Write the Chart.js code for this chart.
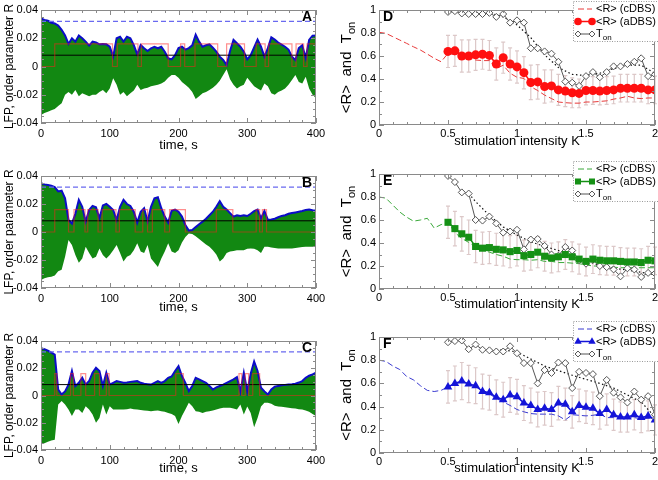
<!DOCTYPE html>
<html>
<head>
<meta charset="utf-8">
<title>LFP, order parameter and stimulation intensity</title>
<script src="https://cdn.jsdelivr.net/npm/chart.js@4.4.1/dist/chart.umd.min.js"></script>
<style>
  html, body { margin: 0; padding: 0; background: #fff; }
  body { width: 658px; height: 480px; position: relative; overflow: hidden; }
  canvas { position: absolute; }
</style>
</head>
<body>
<canvas id="panelA" width="330" height="160" style="left:0;top:0"></canvas>
<canvas id="panelB" width="330" height="160" style="left:0;top:160px"></canvas>
<canvas id="panelC" width="330" height="160" style="left:0;top:320px"></canvas>
<canvas id="panelD" width="334" height="160" style="left:330px;top:0"></canvas>
<canvas id="panelE" width="334" height="160" style="left:330px;top:160px"></canvas>
<canvas id="panelF" width="334" height="160" style="left:330px;top:320px"></canvas>
<script>
// --- time traces (A-C): envelope of the LFP, R on top of it ---
const timeS = [0,5,10,15,20,25,30,35,40,45,50,55,60,65,70,75,80,85,90,95,100,105,110,115,120,125,130,135,140,145,150,155,160,165,170,175,180,185,190,195,200,205,210,215,220,225,230,235,240,245,250,255,260,265,270,275,280,285,290,295,300,305,310,315,320,325,330,335,340,345,350,355,360,365,370,375,380,385,390,395,400];

const rUpperA = [0.034,0.033,0.0325,0.031,0.0305,0.029,0.026,0.022,0.016,0.020,
  0.0176,0.022,0.020,0.0176,0.0148,0.0176,0.017,0.0157,0.016,0.0157,
  0.014,0.007,0.020,0.021,0.0176,0.021,0.020,0.0152,0.0086,0.0152,
  0.0129,0.011,0.0129,0.014,0.0129,0.014,0.0105,0.0058,0.005,0.008,
  0.013,0.014,0.012,0.013,0.015,0.0225,0.0176,0.014,0.015,0.0157,
  0.0133,0.0105,0.007,0.0046,0.001,0.011,0.0188,0.0165,0.014,0.0105,
  0.005,0.008,0.0135,0.019,0.014,0.007,0.013,0.0206,0.019,0.017,
  0.0155,0.014,0.012,0.007,0.0046,0.013,0.015,0.006,0.0188,0.0218,
  0.022];
const lfpLowA = [-0.0343,-0.033,-0.032,-0.031,-0.030,-0.028,-0.026,-0.020,-0.018,-0.020,
  -0.0166,-0.021,-0.019,-0.020,-0.021,-0.020,-0.020,-0.018,-0.0166,-0.019,
  -0.0155,-0.0084,-0.013,-0.020,-0.018,-0.021,-0.019,-0.017,-0.013,-0.0166,
  -0.0155,-0.015,-0.014,-0.0135,-0.013,-0.012,-0.0107,-0.008,-0.006,-0.006,
  -0.008,-0.011,-0.013,-0.015,-0.018,-0.023,-0.021,-0.019,-0.018,-0.0166,
  -0.015,-0.013,-0.010,-0.006,-0.002,-0.009,-0.013,-0.0155,-0.014,-0.013,
  -0.008,-0.011,-0.014,-0.0155,-0.017,-0.012,-0.014,-0.019,-0.020,-0.018,
  -0.017,-0.0155,-0.013,-0.0095,-0.006,-0.011,-0.012,-0.0072,-0.0155,-0.020,
  -0.0225];

const rUpperB = [0.0348,0.034,0.0336,0.033,0.032,0.029,0.0295,0.024,0.0086,0.006,
  0.013,0.023,0.018,0.0074,0.0157,0.0186,0.0176,0.0098,0.019,0.020,
  0.018,0.0157,0.0086,0.018,0.023,0.020,0.0186,0.0145,0.0067,0.0145,
  0.017,0.0074,0.018,0.024,0.0248,0.017,0.011,0.0067,0.0152,0.016,
  0.0145,0.011,0.005,0.001,0.0014,0.0035,0.0055,0.0074,0.0095,0.012,
  0.0145,0.018,0.022,0.018,0.016,0.0135,0.011,0.012,0.0114,0.012,
  0.0114,0.013,0.015,0.016,0.0098,0.015,0.0086,0.009,0.0095,0.0105,
  0.0115,0.012,0.013,0.0135,0.014,0.0145,0.015,0.0157,0.016,0.0155,
  0.0152];
const lfpLowB = [-0.0343,-0.033,-0.0324,-0.032,-0.031,-0.028,-0.027,-0.0176,-0.0057,-0.0093,
  -0.0164,-0.022,-0.019,-0.0105,-0.015,-0.019,-0.0176,-0.0117,-0.0164,-0.019,
  -0.0164,-0.013,-0.0093,-0.015,-0.021,-0.0176,-0.0164,-0.013,-0.008,-0.014,
  -0.015,-0.0093,-0.019,-0.022,-0.025,-0.019,-0.014,-0.008,-0.014,-0.015,
  -0.013,-0.0075,-0.0035,-0.001,-0.0015,-0.003,-0.005,-0.007,-0.009,-0.0105,
  -0.013,-0.016,-0.021,-0.019,-0.015,-0.014,-0.0135,-0.013,-0.013,-0.013,
  -0.012,-0.0117,-0.012,-0.013,-0.015,-0.0105,-0.0105,-0.011,-0.0115,-0.0117,
  -0.0117,-0.0117,-0.0117,-0.0117,-0.0115,-0.011,-0.0108,-0.0105,-0.0105,-0.0105,
  -0.0105];

const rUpperC = [0.0347,0.034,0.033,0.0315,0.030,0.0044,0.0007,0.003,0.008,0.018,
  0.0069,0.0093,0.013,0.008,0.0106,0.0167,0.0204,0.018,0.007,0.0167,
  0.008,0.0093,0.0106,0.010,0.0093,0.0095,0.010,0.0103,0.0106,0.0093,
  0.0086,0.0083,0.008,0.0093,0.0106,0.0093,0.0106,0.013,0.014,0.018,
  0.0216,0.0143,0.0093,0.0032,0.007,0.013,0.0118,0.0106,0.0093,0.007,
  0.0044,0.006,0.007,0.008,0.0093,0.0106,0.0118,0.0135,0.003,0.0167,
  0.003,0.016,0.025,0.018,0.0057,0.003,0.0007,0.0044,0.0065,0.007,
  0.0075,0.0078,0.008,0.0082,0.0086,0.0095,0.0106,0.013,0.0145,0.0155,
  0.0167];
const lfpLowC = [-0.0356,-0.035,-0.034,-0.033,-0.0325,-0.0066,-0.004,-0.0066,-0.0103,-0.015,
  -0.0103,-0.0103,-0.0128,-0.0079,-0.0103,-0.014,-0.020,-0.0165,-0.0066,-0.014,
  -0.0079,-0.0103,-0.0103,-0.0103,-0.0103,-0.010,-0.0096,-0.010,-0.0103,-0.0107,
  -0.011,-0.0112,-0.0115,-0.0112,-0.011,-0.0115,-0.012,-0.0128,-0.0135,-0.015,
  -0.021,-0.015,-0.0103,-0.0054,-0.0079,-0.0115,-0.012,-0.0128,-0.012,-0.0115,
  -0.011,-0.0103,-0.0096,-0.009,-0.009,-0.009,-0.0095,-0.0103,-0.0066,-0.014,
  -0.008,-0.0128,-0.0233,-0.0165,-0.008,-0.0054,-0.0054,-0.006,-0.0075,-0.008,
  -0.0083,-0.0086,-0.009,-0.0093,-0.0096,-0.010,-0.0103,-0.011,-0.012,-0.0135,
  -0.015];

// stimulation on/off: times where it toggles (starts off)
const switchesA = [20,104,111,141,146,185,203,209,224,257,270,296,313,326,331,365,371,382,387];
const switchesB = [20,40,48,64,68,83,89,109,114,137,148,155,162,180,187,210,255,279,313,318,322,328];
const switchesC = [20,23,43,47,58,65,78,85,95,99,196,207,288,292,297,302,308,318];
const stimOn = 0.016, stimOff = 0;
const rInitial = 0.032;     // dashed blue
const rThreshold = 0.008;   // black line
const tEnd = 400;

// --- stimulation intensity panels (D-F) ---
const kAll = [0,0.05,0.1,0.15,0.2,0.25,0.3,0.35,0.4,0.45,0.5,0.55,0.6,0.65,0.7,0.75,0.8,0.85,0.9,0.95,1,1.05,1.1,1.15,1.2,1.25,1.3,1.35,1.4,1.45,1.5,1.55,1.6,1.65,1.7,1.75,1.8,1.85,1.9,1.95,2];
const kStim = [0.5,0.55,0.6,0.65,0.7,0.75,0.8,0.85,0.9,0.95,1,1.05,1.1,1.15,1.2,1.25,1.3,1.35,1.4,1.45,1.5,1.55,1.6,1.65,1.7,1.75,1.8,1.85,1.9,1.95,2];

const cdbsD = [0.806,0.797,0.768,0.739,0.71,0.68,0.652,0.617,0.58,0.55,0.623,0.61,0.60,0.59,0.565,0.56,0.56,0.49,0.52,0.45,0.415,0.405,0.333,0.30,0.26,0.23,0.20,0.194,0.19,0.19,0.20,0.20,0.205,0.21,0.225,0.235,0.25,0.235,0.23,0.235,0.235];
const adbsD = [0.64,0.645,0.60,0.60,0.61,0.615,0.605,0.53,0.585,0.53,0.505,0.455,0.37,0.375,0.335,0.34,0.305,0.295,0.28,0.275,0.30,0.30,0.295,0.30,0.305,0.32,0.32,0.32,0.32,0.305,0.305];
const errD = [0.14,0.135,0.14,0.14,0.135,0.13,0.13,0.14,0.135,0.14,0.14,0.14,0.15,0.15,0.145,0.14,0.135,0.135,0.13,0.125,0.125,0.12,0.12,0.12,0.12,0.12,0.12,0.12,0.12,0.12,0.12];
const tonD = [0.983,0.99,0.97,0.965,0.965,0.965,0.975,0.94,0.965,0.89,0.91,0.89,0.667,0.667,0.64,0.62,0.55,0.377,0.368,0.34,0.425,0.46,0.415,0.46,0.51,0.51,0.53,0.55,0.58,0.425,0.44];
const kFitD = [0.75,0.8,0.9,1,1.1,1.2,1.3,1.4,1.5,1.6,1.7,1.8,1.9,2];
const fitD = [0.98,0.975,0.94,0.87,0.76,0.61,0.5,0.44,0.43,0.45,0.49,0.52,0.52,0.45];

const cdbsE = [0.80,0.79,0.73,0.67,0.625,0.59,0.60,0.615,0.53,0.56,0.58,0.49,0.44,0.405,0.365,0.34,0.32,0.30,0.285,0.26,0.255,0.255,0.25,0.255,0.24,0.24,0.23,0.23,0.225,0.22,0.21,0.20,0.20,0.195,0.19,0.185,0.185,0.185,0.185,0.185,0.185];
const adbsE = [0.58,0.525,0.48,0.45,0.37,0.355,0.36,0.345,0.34,0.325,0.335,0.29,0.30,0.32,0.285,0.27,0.28,0.30,0.28,0.26,0.24,0.26,0.25,0.245,0.245,0.24,0.235,0.235,0.23,0.25,0.245];
const errE = [0.14,0.15,0.15,0.15,0.14,0.14,0.14,0.14,0.14,0.14,0.135,0.135,0.135,0.135,0.13,0.13,0.13,0.13,0.13,0.13,0.125,0.125,0.125,0.125,0.125,0.12,0.12,0.12,0.12,0.12,0.12];
const tonE = [0.983,0.93,0.84,0.83,0.60,0.595,0.63,0.57,0.49,0.50,0.515,0.345,0.43,0.435,0.375,0.30,0.29,0.365,0.335,0.25,0.22,0.255,0.20,0.19,0.17,0.11,0.18,0.17,0.105,0.14,0.135];
const kFitE = [0.65,0.7,0.8,0.9,1,1.1,1.2,1.3,1.4,1.5,1.6,1.7,1.8,1.9,2];
const fitE = [0.83,0.76,0.64,0.54,0.47,0.41,0.37,0.335,0.29,0.245,0.205,0.18,0.165,0.145,0.125];

const cdbsF = [0.80,0.79,0.75,0.72,0.66,0.63,0.58,0.54,0.53,0.54,0.57,0.595,0.615,0.595,0.57,0.545,0.51,0.47,0.44,0.41,0.375,0.355,0.34,0.335,0.335,0.335,0.32,0.285,0.33,0.325,0.32,0.325,0.335,0.305,0.305,0.31,0.30,0.305,0.295,0.30,0.29];
const adbsF = [0.57,0.60,0.62,0.595,0.58,0.53,0.52,0.48,0.46,0.50,0.485,0.43,0.41,0.375,0.385,0.375,0.43,0.42,0.355,0.41,0.395,0.385,0.34,0.375,0.33,0.31,0.31,0.33,0.305,0.32,0.285];
const errF = [0.14,0.15,0.16,0.16,0.155,0.15,0.15,0.15,0.15,0.15,0.15,0.15,0.15,0.15,0.145,0.145,0.145,0.14,0.14,0.14,0.14,0.14,0.135,0.135,0.135,0.13,0.13,0.13,0.13,0.13,0.13];
const tonF = [0.955,0.965,0.97,0.895,0.935,0.89,0.885,0.875,0.875,0.92,0.86,0.775,0.775,0.60,0.715,0.69,0.78,0.775,0.56,0.70,0.69,0.68,0.49,0.63,0.52,0.48,0.435,0.53,0.46,0.49,0.33];
const kFitF = [0.85,0.9,1,1.1,1.2,1.3,1.4,1.5,1.6,1.7,1.8,1.9,2];
const fitF = [0.89,0.89,0.87,0.81,0.75,0.71,0.67,0.635,0.6,0.56,0.5,0.44,0.31];

const FONT = "'Liberation Sans', Arial, Helvetica, sans-serif";
Chart.defaults.font.family = FONT;
Chart.defaults.color = '#000';

const pairs = (xs, ys) => xs.map((x, i) => ({ x, y: ys[i] }));
const shortNum = v => String(Math.round(v * 100) / 100);

function stepSeries(switches){
  const pts = [{ x: 0, y: stimOff }];
  let on = false;
  switches.forEach(t => { on = !on; pts.push({ x: t, y: on ? stimOn : stimOff }); });
  pts.push({ x: tEnd, y: on ? stimOn : stimOff });
  return pts;
}

// frame + inward ticks on all four sides (xmgrace look)
const frameTicks = {
  id: 'frameTicks',
  afterDatasetsDraw(chart, args, o){
    const { ctx, chartArea: a, scales: { x, y } } = chart;
    ctx.save();
    ctx.strokeStyle = o.color;
    ctx.lineWidth = 1;
    ctx.beginPath();
    const walk = (scale, minor, major, fn) => {
      const n = Math.round((scale.max - scale.min) / minor);
      for (let i = 0; i <= n; i++){
        const r = i * minor / major;
        const isMajor = Math.abs(r - Math.round(r)) < 1e-6;
        fn(Math.round(scale.getPixelForValue(scale.min + i * minor)) + 0.5, isMajor ? 5 : 3);
      }
    };
    walk(x, o.xMinor, o.xMajor, (px, len) => {
      ctx.moveTo(px, a.bottom); ctx.lineTo(px, a.bottom - len);
      ctx.moveTo(px, a.top); ctx.lineTo(px, a.top + len);
    });
    walk(y, o.yMinor, o.yMajor, (py, len) => {
      ctx.moveTo(a.left, py); ctx.lineTo(a.left + len, py);
      ctx.moveTo(a.right, py); ctx.lineTo(a.right - len, py);
    });
    ctx.stroke();
    ctx.strokeRect(Math.round(a.left) + 0.5, Math.round(a.top) + 0.5, Math.round(a.width) - 1, Math.round(a.height) - 1);
    ctx.restore();
  }
};

const panelLetter = {
  id: 'panelLetter',
  afterDraw(chart, args, o){
    const { ctx, chartArea: a } = chart;
    ctx.save();
    ctx.font = 'bold 14px ' + FONT;
    ctx.fillStyle = '#000';
    ctx.textBaseline = 'alphabetic';
    if (o.side === 'right'){ ctx.textAlign = 'right'; ctx.fillText(o.text, a.right - 4, a.top + o.dy); }
    else { ctx.textAlign = 'left'; ctx.fillText(o.text, a.left + 4, a.top + o.dy); }
    ctx.restore();
  }
};

// x axis title placed under the tick labels
const xTitle = {
  id: 'xTitle',
  afterDraw(chart, args, o){
    const { ctx, chartArea: a } = chart;
    ctx.save();
    ctx.font = o.size + 'px ' + FONT;
    ctx.fillStyle = '#000';
    ctx.textAlign = 'center';
    ctx.textBaseline = 'middle';
    ctx.fillText(o.text, (a.left + a.right) / 2, a.bottom + o.dy);
    ctx.restore();
  }
};

// error bars from dataset.errorBars, drawn under the curves
const errorBars = {
  id: 'errorBars',
  beforeDatasetsDraw(chart, args, o){
    const { ctx, scales: { x, y } } = chart;
    ctx.save();
    ctx.strokeStyle = o.color;
    ctx.lineWidth = 1.2;
    chart.data.datasets.forEach(ds => {
      if (!ds.errorBars) return;
      ds.data.forEach((p, i) => {
        const e = ds.errorBars[i];
        const px = x.getPixelForValue(p.x);
        const top = y.getPixelForValue(p.y + e), bot = y.getPixelForValue(p.y - e);
        ctx.beginPath();
        ctx.moveTo(px, top); ctx.lineTo(px, bot);
        ctx.moveTo(px - 2, top); ctx.lineTo(px + 2, top);
        ctx.moveTo(px - 2, bot); ctx.lineTo(px + 2, bot);
        ctx.stroke();
      });
    });
    ctx.restore();
  }
};

function drawSubText(ctx, x, y, main, sub, size){
  ctx.font = size + 'px ' + FONT;
  ctx.fillText(main, x, y);
  const w = ctx.measureText(main).width;
  ctx.font = Math.round(size * 0.7) + 'px ' + FONT;
  ctx.fillText(sub, x + w, y + size * 0.3);
}

const yTitleSub = {
  id: 'yTitleSub',
  afterDraw(chart, args, o){
    const { ctx, chartArea: a } = chart;
    ctx.save();
    ctx.translate(o.x, (a.top + a.bottom) / 2);
    ctx.rotate(-Math.PI / 2);
    ctx.fillStyle = '#000';
    ctx.textBaseline = 'middle';
    ctx.textAlign = 'left';
    ctx.font = o.size + 'px ' + FONT;
    const w1 = ctx.measureText(o.text).width;
    ctx.font = Math.round(o.size * 0.7) + 'px ' + FONT;
    const w2 = ctx.measureText(o.sub).width;
    drawSubText(ctx, -(w1 + w2) / 2, 0, o.text, o.sub, o.size);
    ctx.restore();
  }
};

const dbsLegend = {
  id: 'dbsLegend',
  afterDraw(chart, args, o){
    const { ctx, chartArea: a } = chart;
    const bx = a.right - 82, by = 1, bw = 86, bh = 41;
    const H = Chart.helpers;
    ctx.save();
    ctx.fillStyle = '#fff';
    ctx.fillRect(bx, by, bw, bh);
    ctx.strokeStyle = '#999';
    ctx.lineWidth = 1;
    ctx.setLineDash([1, 1.5]);
    ctx.strokeRect(bx + 0.5, by + 0.5, bw, bh - 1);
    const rows = [chart.data.datasets[3], chart.data.datasets[0], chart.data.datasets[1]];
    rows.forEach((ds, i) => {
      const cy = by + 8 + i * 12.5;
      const x0 = bx + 5, x1 = bx + 19;
      ctx.setLineDash(ds.borderDash || []);
      ctx.strokeStyle = ds.borderColor;
      ctx.lineWidth = ds.borderWidth;
      ctx.beginPath(); ctx.moveTo(x0, cy); ctx.lineTo(x1, cy); ctx.stroke();
      ctx.setLineDash([]);
      if (ds.pointRadius > 0){
        ctx.fillStyle = ds.pointBackgroundColor || ds.backgroundColor;
        ctx.strokeStyle = ds.pointBorderColor || ds.borderColor;
        ctx.lineWidth = ds.pointBorderWidth || 0;
        const po = { pointStyle: ds.pointStyle, radius: ds.pointRadius * 0.85, rotation: 0, borderWidth: ds.pointBorderWidth || 0 };
        H.drawPoint(ctx, po, x0, cy);
        H.drawPoint(ctx, po, x1, cy);
      }
      ctx.fillStyle = '#000';
      ctx.textBaseline = 'middle';
      ctx.textAlign = 'left';
      if (ds.legendSub) drawSubText(ctx, bx + 23, cy, ds.legendText, ds.legendSub, 11);
      else { ctx.font = '11px ' + FONT; ctx.fillText(ds.legendText, bx + 23, cy); }
    });
    ctx.restore();
  }
};

const noGrid = { display: false, drawTicks: false };

function lfpPanel(id, letter, upper, lower, switches, lay){
  new Chart(document.getElementById(id), {
    type: 'scatter',
    data: {
      datasets: [
        { data: pairs(timeS, lower), showLine: true, borderWidth: 0, borderColor: 'rgba(0,0,0,0)', pointRadius: 0, order: 4 },
        { data: pairs(timeS, upper), showLine: true, borderColor: '#0c0cc8', borderWidth: 2, pointRadius: 0,
          fill: '-1', backgroundColor: '#128812', order: 3 },
        { data: [{ x: 0, y: rInitial }, { x: tEnd, y: rInitial }], showLine: true, borderColor: '#6a6af0',
          borderWidth: 1.2, borderDash: [5, 3], pointRadius: 0, order: 2 },
        { data: [{ x: 0, y: rThreshold }, { x: tEnd, y: rThreshold }], showLine: true, borderColor: '#000',
          borderWidth: 1, pointRadius: 0, order: 1 },
        { data: stepSeries(switches), showLine: true, stepped: true, borderColor: 'rgba(255,30,30,0.5)',
          borderWidth: 1.2, pointRadius: 0, order: 0 }
      ]
    },
    options: {
      responsive: false,
      animation: false,
      events: [],
      layout: { padding: { top: lay.top, right: 14, bottom: 0, left: 0 } },
      plugins: {
        legend: { display: false },
        tooltip: { enabled: false },
        frameTicks: { color: '#8a8a8a', xMinor: 20, xMajor: 100, yMinor: 0.005, yMajor: 0.02 },
        panelLetter: { text: letter, side: 'right', dy: 10.5 },
        xTitle: { text: 'time, s', size: 13, dy: lay.titleDy }
      },
      scales: {
        x: {
          type: 'linear', min: 0, max: 400,
          grid: noGrid, border: { display: false },
          ticks: { stepSize: 100, font: { size: 11 }, padding: 4 },
          afterFit: s => { s.height = lay.xh; }
        },
        y: {
          min: -0.04, max: 0.04,
          grid: noGrid, border: { display: false },
          ticks: { stepSize: 0.02, font: { size: 11 }, padding: 3,
            callback: v => Math.abs(v) < 1e-9 ? '0' : v.toFixed(2) },
          title: { display: true, text: 'LFP, order parameter R', font: { size: 12 }, padding: { top: 2, bottom: 0 } },
          afterFit: s => { s.width = 41; }
        }
      }
    },
    plugins: [frameTicks, panelLetter, xTitle]
  });
}

function dbsPanel(id, letter, c, lay){
  new Chart(document.getElementById(id), {
    type: 'scatter',
    data: {
      datasets: [
        { data: pairs(kStim, c.adbs), errorBars: c.err, showLine: true, borderColor: c.color, backgroundColor: c.color,
          borderWidth: 1.5, pointStyle: c.pointStyle, pointRadius: c.pointRadius, pointBorderWidth: 0,
          legendText: '<R> (aDBS)', order: 0 },
        { data: pairs(kStim, c.ton), showLine: true, borderColor: '#555', borderWidth: 1, pointStyle: 'rectRot',
          pointRadius: 3.5, pointBackgroundColor: '#fff', pointBorderColor: '#555', pointBorderWidth: 1,
          legendText: 'T', legendSub: 'on', order: 1 },
        { data: pairs(c.fitK, c.fit), showLine: true, borderColor: '#111', borderWidth: 1.2, borderDash: [1.5, 2.5],
          pointRadius: 0, order: 2 },
        { data: pairs(kAll, c.cdbs), showLine: true, borderColor: c.dashColor, borderWidth: 1, borderDash: [6, 3],
          pointRadius: 0, legendText: '<R> (cDBS)', order: 3 }
      ]
    },
    options: {
      responsive: false,
      animation: false,
      events: [],
      layout: { padding: { top: lay.top, right: 9, bottom: 0, left: 0 } },
      plugins: {
        legend: { display: false },
        tooltip: { enabled: false },
        frameTicks: { color: '#8a8a8a', xMinor: 0.1, xMajor: 0.5, yMinor: 0.1, yMajor: 0.2 },
        errorBars: { color: 'rgba(214,190,190,0.85)' },
        panelLetter: { text: letter, side: 'left', dy: 11 },
        yTitleSub: { x: 17, text: '<R>  and  T', sub: 'on', size: 15 },
        xTitle: { text: 'stimulation intensity K', size: 13, dy: lay.titleDy }
      },
      scales: {
        x: {
          type: 'linear', min: 0, max: 2,
          grid: noGrid, border: { display: false },
          ticks: { stepSize: 0.5, font: { size: 11 }, padding: 2, callback: shortNum },
          afterFit: s => { s.height = lay.xh; }
        },
        y: {
          min: 0, max: 1,
          grid: noGrid, border: { display: false },
          ticks: { stepSize: 0.2, font: { size: 11 }, padding: 3, callback: shortNum },
          afterFit: s => { s.width = 49; }
        }
      }
    },
    plugins: [errorBars, frameTicks, panelLetter, yTitleSub, xTitle, dbsLegend]
  });
}

lfpPanel('panelA', 'A', rUpperA, lfpLowA, switchesA, { top: 10, xh: 37, titleDy: 22 });
lfpPanel('panelB', 'B', rUpperB, lfpLowB, switchesB, { top: 16, xh: 32, titleDy: 19 });
lfpPanel('panelC', 'C', rUpperC, lfpLowC, switchesC, { top: 21, xh: 30, titleDy: 18 });

dbsPanel('panelD', 'D', { color: '#ff1010', dashColor: '#e83a3a', pointStyle: 'circle', pointRadius: 4.5,
  cdbs: cdbsD, adbs: adbsD, err: errD, ton: tonD, fitK: kFitD, fit: fitD }, { top: 10, xh: 35, titleDy: 16 });
dbsPanel('panelE', 'E', { color: '#159015', dashColor: '#3aa83a', pointStyle: 'rect', pointRadius: 5,
  cdbs: cdbsE, adbs: adbsE, err: errE, ton: tonE, fitK: kFitE, fit: fitE }, { top: 14, xh: 31, titleDy: 15 });
dbsPanel('panelF', 'F', { color: '#1414d8', dashColor: '#3a3ad0', pointStyle: 'triangle', pointRadius: 5,
  cdbs: cdbsF, adbs: adbsF, err: errF, ton: tonF, fitK: kFitF, fit: fitF }, { top: 17, xh: 27, titleDy: 15 });
</script>
</body>
</html>
